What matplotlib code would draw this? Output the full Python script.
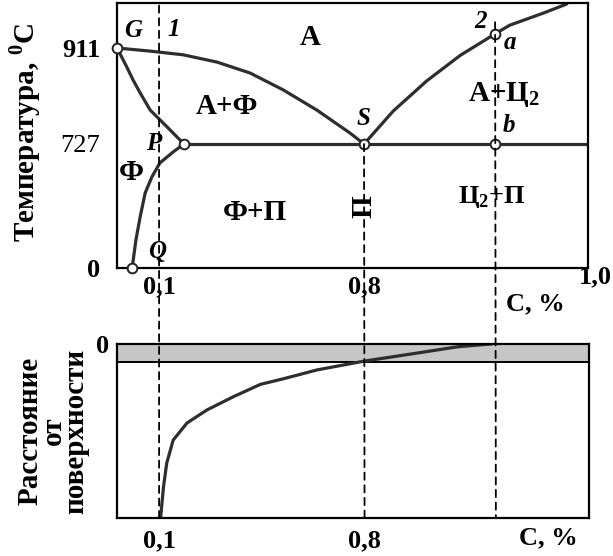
import numpy as np
import matplotlib.pyplot as plt
from matplotlib.patches import ConnectionPatch
from matplotlib.transforms import ScaledTranslation

plt.rcParams['font.family'] = ['Liberation Serif', 'DejaVu Serif']
plt.rcParams['font.weight'] = 'bold'
plt.rcParams['axes.labelweight'] = 'bold'
plt.rcParams['mathtext.fontset'] = 'custom'
plt.rcParams['mathtext.bf'] = 'Liberation Serif:bold'
plt.rcParams['mathtext.rm'] = 'Liberation Serif:bold'

# the diagram is schematic: carbon and temperature axes are not to scale
c_knots = [0.0, 0.1, 0.8, 1.0]
c_pos = [0.0, 42.0, 247.0, 471.0]
t_knots = [0.0, 727.0, 911.0, 1000.0]
t_pos = [0.0, 124.0, 220.0, 265.0]

# phase boundaries (C %, T degC)
gs_c = [0.0, 0.079, 0.182, 0.298, 0.411, 0.523, 0.639, 0.752, 0.8]
gs_t = [911, 905, 898, 884, 863, 831, 792, 748, 727]
gp_c = [0.0, 0.023, 0.038, 0.055, 0.079, 0.127, 0.185]
gp_t = [911, 875, 850, 825, 792, 760, 727]
pq_c = [0.185, 0.148, 0.103, 0.083, 0.067, 0.055, 0.045, 0.036]
pq_t = [727, 680, 616, 534, 440, 299, 164, 0]
se_c = [0.8, 0.826, 0.856, 0.886, 0.917, 0.930, 0.960, 0.981]
se_t = [727, 790, 848, 897, 939, 956, 980, 998]
eut_c = [0.185, 1.0]
eut_t = [727, 727]

pt_c = [0.0, 0.185, 0.8, 0.036, 0.917, 0.917]   # G, P, S, Q, a, b
pt_t = [911, 727, 727, 0, 939, 727]

# carbon vs depth after carburizing
case_c = [0.105, 0.115, 0.126, 0.148, 0.195, 0.263, 0.353, 0.445, 0.523,
          0.638, 0.8, 0.847, 0.883, 0.9125]
case_d = [1.0, 0.82, 0.684, 0.552, 0.454, 0.379, 0.303, 0.232, 0.2,
          0.149, 0.098, 0.052, 0.016, 0.0]
band_d = 0.106

guide_c = [0.1, 0.8, 0.917]
guide_top = [995, 727, 962]


def c_fwd(x):
    return np.interp(x, c_knots, c_pos)


def c_inv(x):
    return np.interp(x, c_pos, c_knots)


def t_fwd(y):
    return np.interp(y, t_knots, t_pos)


def t_inv(y):
    return np.interp(y, t_pos, t_knots)


line_col = '#2e2e2e'
fig = plt.figure(figsize=(6.13, 5.56), dpi=100)
ax1 = fig.add_axes([0.1909, 0.518, 0.7684, 0.4766])
ax2 = fig.add_axes([0.1909, 0.0683, 0.7700, 0.3130])

for ax in (ax1, ax2):
    ax.set_xscale('function', functions=(c_fwd, c_inv))
    ax.set_xlim(0.0, 1.0)
    for sp in ax.spines.values():
        sp.set_linewidth(1.6)
    ax.tick_params(length=0, labelsize=19)

# top panel: Fe-C diagram corner
ax1.set_yscale('function', functions=(t_fwd, t_inv))
ax1.set_ylim(0, 1000)
for xs, ys in [(gs_c, gs_t), (gp_c, gp_t), (pq_c, pq_t), (se_c, se_t), (eut_c, eut_t)]:
    ax1.plot(xs, ys, color=line_col, lw=2.3, solid_capstyle='round')
ax1.plot(pt_c, pt_t, 'o', ms=7, mfc='white', mec='#222222', mew=1.4,
         clip_on=False, zorder=5)

ax1.set_yticks([0, 727, 911])
ax1.set_yticklabels(['0', '727', '911'])
ax1.get_yticklabels()[1].set_fontweight('normal')
ax1.tick_params(axis='y', pad=12)
ax1.set_xticks([0.1, 0.8, 1.0])
ax1.set_xticklabels(['0,1', '0,8', '1,0'])
ax1.tick_params(axis='x', pad=5)
lab = ax1.get_xticklabels()[2]
lab.set_transform(lab.get_transform() + ScaledTranslation(5 / 72, 7 / 72, fig.dpi_scale_trans))
ax1.annotate('C, %', xy=(0.953, 0), xytext=(0, -36), textcoords='offset pixels',
             ha='center', va='center', fontsize=19, annotation_clip=False)

ax1.set_ylabel(r'Температура, $^\mathbf{0}$C', fontsize=21)
ax1.yaxis.set_label_coords(-0.158, 0.51)

it = dict(fontsize=18, style='italic', ha='center', va='center')
up = dict(fontsize=21, ha='center', va='center')
ax1.text(0.038, 945, 'G', **it)
ax1.text(0.151, 947, '1', **it)
ax1.text(0.088, 727, 'P', **it)
ax1.text(0.095, 94, 'Q', **it)
ax1.text(0.799, 775, 'S', **it)
ax1.text(0.904, 964, '2', **it)
ax1.text(0.930, 921, 'a', **it)
ax1.text(0.929, 763, 'b', **it)
ax1.text(0.616, 931, 'А', **up)
ax1.text(0.332, 798, 'А+Ф', **up)
ax1.text(0.033, 557, 'Ф', **up)
ax1.text(0.427, 328, 'Ф+П', **up)
ax1.text(0.8, 358, 'П', rotation=90, **up)
ax1.text(0.925, 822, r'А+Ц$_\mathbf{2}$', **up)
ax1.text(0.914, 416, r'Ц$_\mathbf{2}$+П', fontsize=19, ha='center', va='center')

# bottom panel: carbon profile through the case
ax2.set_ylim(1.0, 0.0)
ax2.axhspan(0, band_d, facecolor='#c6c6c6', edgecolor='none', zorder=0)
ax2.axhline(band_d, color='black', lw=1.4)
ax2.plot(case_c, case_d, color=line_col, lw=2.3)
ax2.set_yticks([0])
ax2.set_yticklabels(['0'])
ax2.tick_params(axis='y', pad=6)
ax2.set_xticks([0.1, 0.8])
ax2.set_xticklabels(['0,1', '0,8'])
ax2.tick_params(axis='x', pad=8)
ax2.annotate('C, %', xy=(0.964, 1.0), xytext=(0, -20), textcoords='offset pixels',
             ha='center', va='center', fontsize=19, annotation_clip=False)
ax2.set_ylabel('Расстояние\nот\nповерхности', fontsize=21, linespacing=0.8)
ax2.yaxis.set_label_coords(-0.058, 0.5)

# dashed guides run through both panels
for gc, gt in zip(guide_c, guide_top):
    con = ConnectionPatch(xyA=(gc, gt), coordsA='data', axesA=ax1,
                          xyB=(gc, 1.0), coordsB='data', axesB=ax2,
                          color='black', lw=1.3, linestyle=(0, (4, 3)), zorder=1)
    fig.add_artist(con)

fig.savefig('out.png', dpi=100, facecolor='white')
